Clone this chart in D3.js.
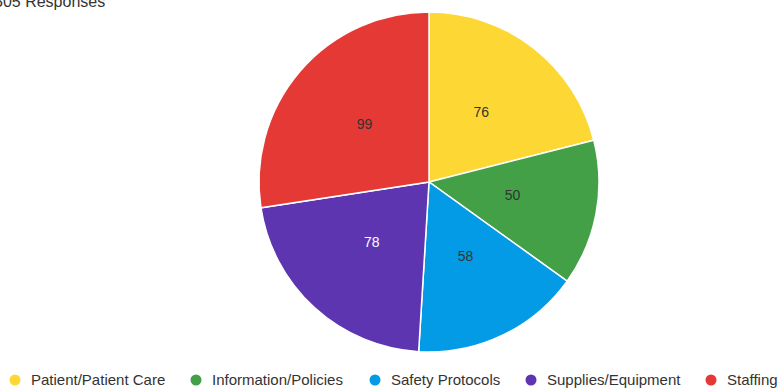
<!DOCTYPE html>
<html>
<head>
<meta charset="utf-8">
<script src="https://cdn.jsdelivr.net/npm/d3@7"></script>
<style>
  body { margin: 0; background: #fff; }
  svg { display: block; font-family: "Liberation Sans", Arial, sans-serif; }
</style>
</head>
<body>
<svg id="chart" width="781" height="389"></svg>
<script>
// data
const categories = ["Patient/Patient Care", "Information/Policies", "Safety Protocols", "Supplies/Equipment", "Staffing"];
const values = [76, 50, 58, 78, 99];
const colors = ["#fdd835", "#43a047", "#039be5", "#5e35b1", "#e53935"];
const labelColors = ["#333", "#333", "#333", "#fff", "#333"];
const title = "305 Responses";

const cx = 429, cy = 182, radius = 170;

const svg = d3.select("#chart");

// title (cut off at the top-left like the original)
svg.append("text")
  .attr("x", -6)
  .attr("y", 7)
  .style("font-size", "16px")
  .style("fill", "#333")
  .text(title);

const data = categories.map((c, i) => ({ name: c, value: values[i], i: i }));

const pie = d3.pie().sort(null).value(d => d.value);
const arc = d3.arc().innerRadius(0).outerRadius(radius);
const labelArc = d3.arc().innerRadius(radius * 0.5).outerRadius(radius * 0.5);

const g = svg.append("g").attr("transform", `translate(${cx}, ${cy})`);

const slices = g.selectAll("g.slice")
  .data(pie(data))
  .enter()
  .append("g")
  .attr("class", "slice");

slices.append("path")
  .attr("d", arc)
  .attr("fill", d => colors[d.data.i])
  .attr("stroke", "#fff")
  .attr("stroke-width", 1.5);

slices.append("text")
  .attr("transform", d => {
    const [x, y] = labelArc.centroid(d);
    return `translate(${x}, ${y - 3})`;
  })
  .attr("text-anchor", "middle")
  .attr("dy", "0.35em")
  .style("font-size", "14px")
  .style("fill", d => labelColors[d.data.i])
  .text(d => d.data.value);

// legend
const legendX = [15, 196, 375, 531, 711];
const legend = svg.append("g").attr("transform", "translate(0, 380)");

const items = legend.selectAll("g")
  .data(data)
  .enter()
  .append("g")
  .attr("transform", d => `translate(${legendX[d.i]}, 0)`);

items.append("circle")
  .attr("r", 5.5)
  .attr("fill", d => colors[d.i]);

items.append("text")
  .attr("x", 16)
  .attr("dy", "0.35em")
  .style("font-size", "15px")
  .style("fill", "#333")
  .text(d => d.name);
</script>
</body>
</html>
